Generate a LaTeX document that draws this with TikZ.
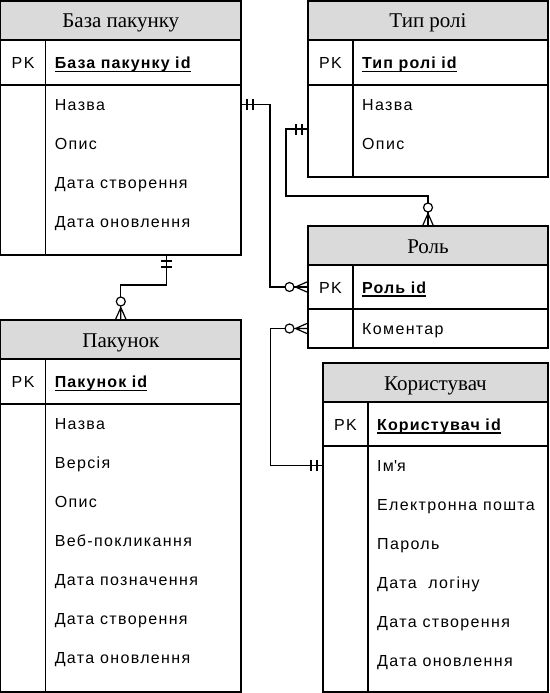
\documentclass[tikz,border=0pt]{standalone}
\usepackage{fontspec}
\setmainfont{Liberation Serif}
\newfontfamily\fldfont{Liberation Sans}[LetterSpace=8.5, BoldFeatures={LetterSpace=7}]
\usetikzlibrary{calc}
\definecolor{hdrgray}{HTML}{DADADA}
\newcommand\ulbox[1]{\setbox0\hbox{#1}\rlap{\rule[-3.6pt]{\wd0}{1.3pt}}\box0}
\tikzset{
  ln/.style={line width=1.2pt, line cap=rect},
  tbl/.style={draw, line width=1.2pt, anchor=north west, inner sep=0pt, outer sep=0pt},
  ttl/.style={font=\fontsize{21}{24}\selectfont\rmfamily, inner sep=0pt, text height=14pt, text depth=0pt},
  fld/.style={font=\fontsize{16}{19}\selectfont\fldfont, inner sep=0pt, anchor=west, text height=12pt, text depth=0pt},
  pkl/.style={fld, anchor=center},
  conn/.style={line width=1.2pt},
}
\newcommand\ertable[8]{%
  \fill[hdrgray] #2 rectangle ++(#3,39);
  \node[tbl, minimum width=#3pt, minimum height=#4pt] (#1) at #2 {};
  \draw[ln] ($(#1.north west)+(0,39)$) -- ($(#1.north east)+(0,39)$);
  \draw[ln] ($(#1.north west)+(0,#6)$) -- ($(#1.north east)+(0,#6)$);
  \draw[ln] ($(#1.north west)+(#5,39)$) -- ($(#1.south west)+(#5,0)$);
  \node[ttl] (#1-t) at ($(#1.north)+(0,20)$) {#7};
  \node[pkl] (#1-pk0) at ($(#1.north west)+({#5/2},{(39+#6)/2})$) {PK};
  \node[fld] (#1-pk) at ($(#1.north west)+({#5+9},{(39+#6)/2})$) {\ulbox{\bfseries #8}};
}
\newcommand\fields[4]{% name, divider offset, pk bottom offset, list
  \foreach \t [count=\i] in {#4}
    \node[fld] (#1-\i) at ($(#1.north west)+({#2+9},{#3+19.5+39*(\i-1)})$) {\t};
}
% markers: #1 point, #2 direction vector (away from entity), #3 perpendicular
\newcommand\mone[3]{%
  \begin{scope}[shift={#1}, x={#2}, y={#3}]
    \draw[conn] (6,-5.5) -- (6,5.5) (12,-5.5) -- (12,5.5);
  \end{scope}}
\newcommand\zmany[3]{%
  \begin{scope}[shift={#1}, x={#2}, y={#3}]
    \draw[conn] (0,-5.5) -- (12.5,0) -- (0,5.5) (0,0) -- (12.5,0);
    \draw[conn, fill=white] (18.5,0) circle[radius=4.5pt];
  \end{scope}}
\begin{document}
\begin{tikzpicture}[x=1pt, y=-1pt]
\useasboundingbox (0,0) rectangle (549,693);
\fill[white] (0,0) rectangle (549,693);

\ertable{bp}{(0.6,1)}{240.4}{254}{45}{84}{База пакунку}{База пакунку id}
\fields{bp}{45}{84}{Назва, Опис, Дата створення, Дата оновлення}

\ertable{tr}{(308,1)}{240}{176}{45}{84}{Тип ролі}{Тип ролі id}
\fields{tr}{45}{84}{Назва, Опис}

\ertable{rl}{(308,226)}{240}{122}{45}{83}{Роль}{Роль id}
\fields{rl}{45}{83}{Коментар}

\ertable{pk}{(0.6,320)}{240.4}{372}{45}{84}{Пакунок}{Пакунок id}
\fields{pk}{45}{84}{Назва, Версія, Опис, Веб-покликання, Дата позначення, Дата створення, Дата оновлення}

\ertable{us}{(323,363)}{225}{329}{45}{83}{Користувач}{Користувач id}
\fields{us}{45}{83}{Ім\textquotesingle я, Електронна пошта, Пароль, Дата\ \ логіну, Дата створення, Дата оновлення}

\coordinate (trA) at ($(tr.west)+(0,40)$);
\coordinate (bpB) at ($(bp.south)+(45.5,0)$);

% connectors
\draw[conn] (bp.east |- bp-1) -- ++(29,0) |- (rl.west |- rl-pk);
\draw[conn] (trA) -- ++(-22,0) |- ($(rl.north)+(0,-30)$) -- (rl.north);
\draw[conn] (bpB) -- ++(0,30) -| (pk.north);
\draw[conn] (rl.west |- rl-1) -- ++(-37.5,0) |- (us.west |- us-1);

% markers
\mone{(bp.east |- bp-1)}{(1pt,0pt)}{(0pt,1pt)}
\zmany{(rl.west |- rl-pk)}{(-1pt,0pt)}{(0pt,1pt)}
\mone{(trA)}{(-1pt,0pt)}{(0pt,1pt)}
\zmany{(rl.north)}{(0pt,1pt)}{(1pt,0pt)}
\mone{(bpB)}{(0pt,-1pt)}{(1pt,0pt)}
\zmany{(pk.north)}{(0pt,1pt)}{(1pt,0pt)}
\zmany{(rl.west |- rl-1)}{(-1pt,0pt)}{(0pt,1pt)}
\mone{(us.west |- us-1)}{(-1pt,0pt)}{(0pt,1pt)}
\end{tikzpicture}
\end{document}
